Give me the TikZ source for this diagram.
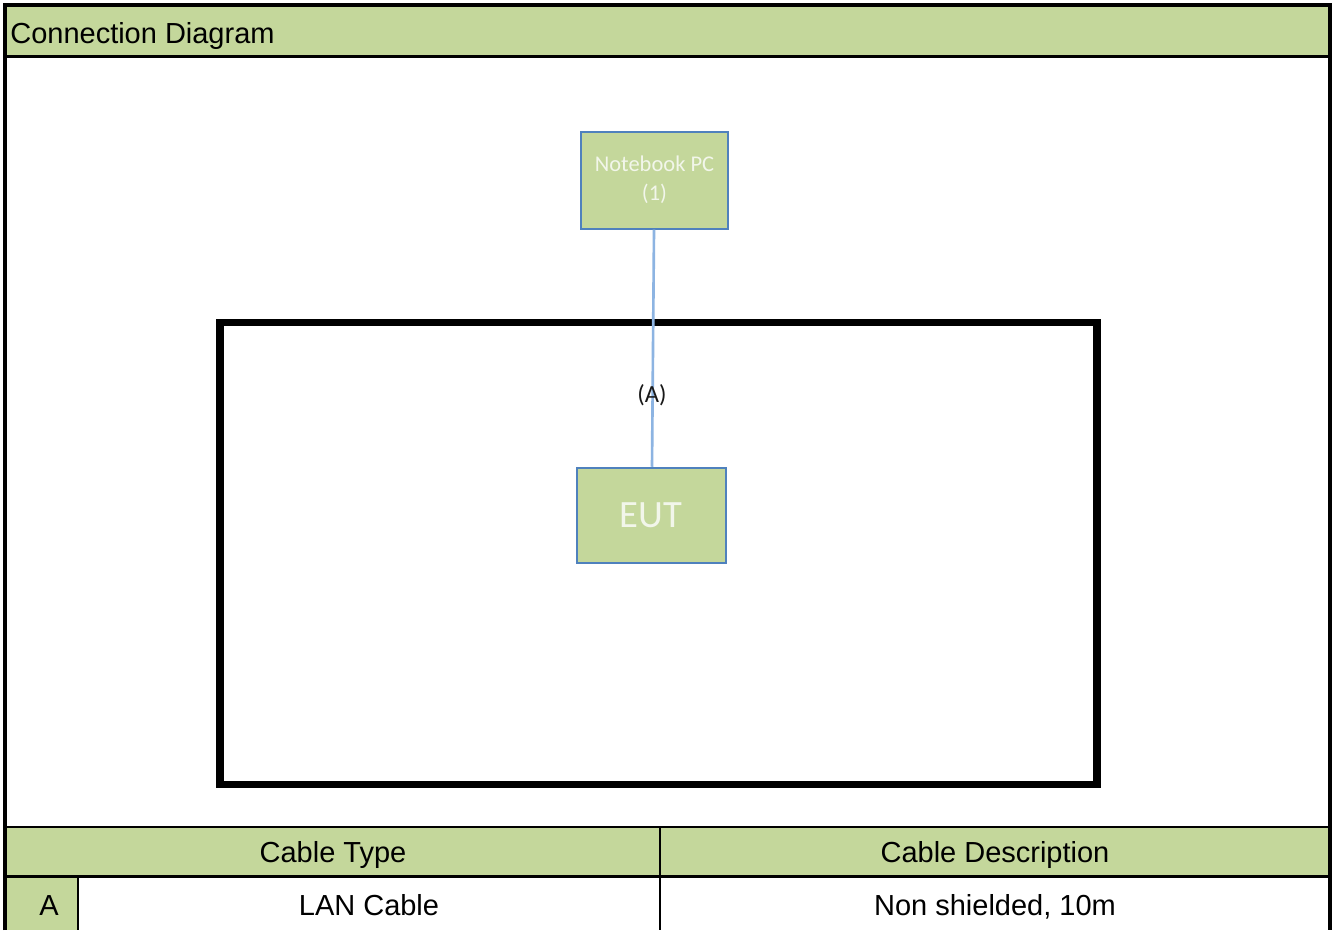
\documentclass[tikz,border=0pt]{standalone}
\usepackage{fontspec}
\setmainfont{Liberation Sans}
\newfontfamily\calibri{Carlito}
\usetikzlibrary{calc}
\definecolor{cellgreen}{HTML}{C4D79B}
\definecolor{boxblue}{HTML}{4F81BD}
\definecolor{cableblue}{HTML}{8DB4E2}
\definecolor{boxtext}{HTML}{F2F6EA}
\tikzset{
  devbox/.style={draw=boxblue, line width=1.1pt, fill=cellgreen, inner sep=0pt},
  celltext/.style={font=\fontsize{16.5}{20}\selectfont, text=black, inner sep=0pt, anchor=base}
}

\begin{document}
\begin{tikzpicture}[x=0.02cm, y=-0.02cm]
		%%%%% START %%%%%
		\useasboundingbox (0, 0) rectangle (1337, 930);
		\fill[white] (0, 0) rectangle (1337, 930);
		
		% header and table fills
		\fill[cellgreen] (7, 7) rectangle (1328, 56);
		\fill[cellgreen] (7, 827) rectangle (1328, 876);
		\fill[cellgreen] (7, 877) rectangle (78, 930);
		
		% frame
		\draw[line width=2.3pt] (5, 930) -- (5, 5) -- (1330, 5) -- (1330, 930);
		\draw[line width=1.2pt] (7, 56.5) -- (1328, 56.5);
		\draw[line width=1.2pt] (7, 827) -- (1328, 827);
		\draw[line width=1.4pt] (7, 876.5) -- (1328, 876.5);
		\draw[line width=1.4pt] (660, 827) -- (660, 930);
		\draw[line width=1.3pt] (78, 876.5) -- (78, 930);
		
		\node[celltext, anchor=base west] (title) at (10, 43) {Connection Diagram};
		
		% test area
		\draw[line width=4.5pt] (220, 322.5) rectangle (1097, 784.5);
		
		\node[devbox, minimum width=2.94cm, minimum height=1.94cm, align=center,
		      font=\calibri\fontsize{12.8}{16.5}\selectfont, text=boxtext] (pc) at (654.5, 180.2)
		      {Notebook PC\\(1)};
		\node[devbox, minimum width=2.98cm, minimum height=1.9cm,
		      font=\calibri\fontsize{22}{26}\selectfont, text=boxtext] (eut) at (651.2, 515.2) {EUT};
		
		\draw[cableblue, line width=1.5pt] (pc.south -| 654, 0) -- (eut.north -| 652, 0);
		\node[font=\calibri\fontsize{14}{16}\selectfont, text=black!90, inner sep=0pt] (cablea) at (652, 395) {(A)};
		
		% cable table
		\node[celltext] (typehead) at (333, 862) {Cable Type};
		\node[celltext] (deschead) at (995, 862) {Cable Description};
		\node[celltext] (rowa) at (49, 915) {A};
		\node[celltext] (rowatype) at (369, 915) {LAN Cable};
		\node[celltext] (rowadesc) at (995, 915) {Non shielded, 10m};
		
		%%%%% END %%%%%
	\end{tikzpicture}
\end{document}
